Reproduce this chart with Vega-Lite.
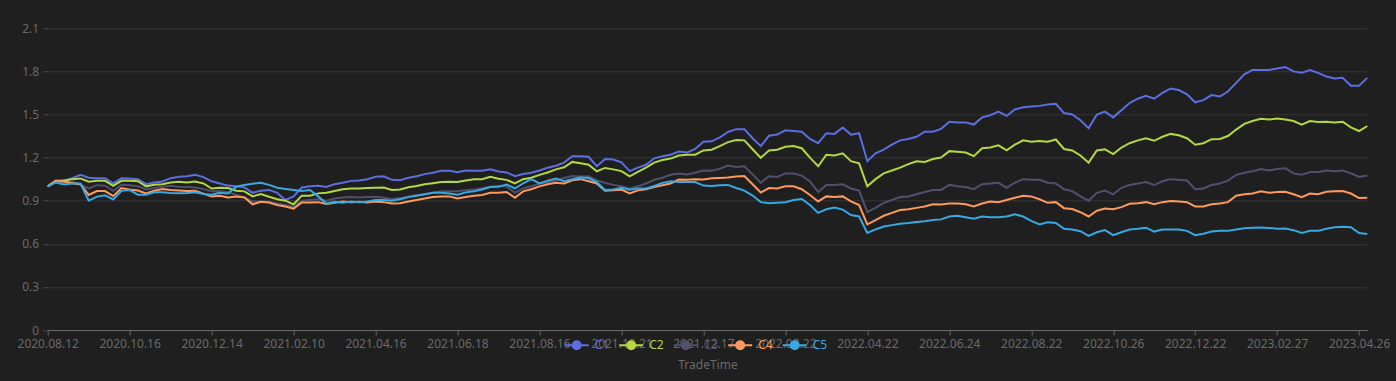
{
"$schema": "https://vega.github.io/schema/vega-lite/v6.json",
"autosize": {"type": "none"},
"padding": {"left": 47.7, "top": 28.3, "right": 28.7, "bottom": 51},
"width": 1319.6,
"height": 301.7,
"background": "#1f1f1f",
"config": {
  "view": {"stroke": null},
  "font": "Noto Sans",
  "axis": {"labelFont": "Noto Sans", "titleFont": "Noto Sans", "labelFontSize": 12, "titleFontSize": 12, "titleFontWeight": "normal"}
},
"data": {"values": [
{"TradeTime":"2020.08.12","C1":1.0,"C2":1.0,"C3":1.0,"C4":1.0,"C5":1.0},
{"TradeTime":"2020.08.18","C1":1.038,"C2":1.036,"C3":1.03,"C4":1.04,"C5":1.027},
{"TradeTime":"2020.08.24","C1":1.04,"C2":1.04,"C3":1.025,"C4":1.034,"C5":1.013},
{"TradeTime":"2020.08.28","C1":1.057,"C2":1.05,"C3":1.034,"C4":1.022,"C5":1.02},
{"TradeTime":"2020.09.03","C1":1.08,"C2":1.055,"C3":1.011,"C4":1.015,"C5":1.02},
{"TradeTime":"2020.09.09","C1":1.06,"C2":1.032,"C3":0.985,"C4":0.94,"C5":0.9},
{"TradeTime":"2020.09.15","C1":1.057,"C2":1.038,"C3":1.008,"C4":0.967,"C5":0.928},
{"TradeTime":"2020.09.21","C1":1.057,"C2":1.038,"C3":1.004,"C4":0.967,"C5":0.937},
{"TradeTime":"2020.09.25","C1":1.02,"C2":1.004,"C3":0.969,"C4":0.932,"C5":0.909},
{"TradeTime":"2020.10.09","C1":1.057,"C2":1.038,"C3":1.011,"C4":0.988,"C5":0.969},
{"TradeTime":"2020.10.16","C1":1.055,"C2":1.038,"C3":1.008,"C4":0.978,"C5":0.974},
{"TradeTime":"2020.10.22","C1":1.05,"C2":1.036,"C3":1.0,"C4":0.971,"C5":0.942},
{"TradeTime":"2020.10.28","C1":1.015,"C2":1.0,"C3":0.978,"C4":0.951,"C5":0.942},
{"TradeTime":"2020.11.03","C1":1.027,"C2":1.011,"C3":0.988,"C4":0.969,"C5":0.958},
{"TradeTime":"2020.11.09","C1":1.034,"C2":1.015,"C3":0.997,"C4":0.981,"C5":0.958},
{"TradeTime":"2020.11.13","C1":1.057,"C2":1.027,"C3":1.004,"C4":0.974,"C5":0.953},
{"TradeTime":"2020.11.19","C1":1.066,"C2":1.032,"C3":0.997,"C4":0.971,"C5":0.951},
{"TradeTime":"2020.11.25","C1":1.07,"C2":1.027,"C3":0.995,"C4":0.967,"C5":0.953},
{"TradeTime":"2020.12.01","C1":1.08,"C2":1.034,"C3":0.992,"C4":0.969,"C5":0.958},
{"TradeTime":"2020.12.07","C1":1.064,"C2":1.02,"C3":0.981,"C4":0.949,"C5":0.946},
{"TradeTime":"2020.12.14","C1":1.035,"C2":0.985,"C3":0.965,"C4":0.93,"C5":0.942},
{"TradeTime":"2020.12.18","C1":1.02,"C2":0.99,"C3":0.965,"C4":0.935,"C5":0.955},
{"TradeTime":"2020.12.24","C1":1.005,"C2":0.988,"C3":0.96,"C4":0.922,"C5":0.95},
{"TradeTime":"2020.12.30","C1":1.0,"C2":0.97,"C3":0.94,"C4":0.93,"C5":0.998},
{"TradeTime":"2021.01.06","C1":0.993,"C2":0.965,"C3":0.925,"C4":0.923,"C5":1.01},
{"TradeTime":"2021.01.12","C1":0.955,"C2":0.93,"C3":0.895,"C4":0.875,"C5":1.018},
{"TradeTime":"2021.01.18","C1":0.97,"C2":0.946,"C3":0.895,"C4":0.893,"C5":1.025},
{"TradeTime":"2021.01.22","C1":0.975,"C2":0.928,"C3":0.893,"C4":0.888,"C5":1.01},
{"TradeTime":"2021.01.28","C1":0.955,"C2":0.91,"C3":0.88,"C4":0.87,"C5":0.99},
{"TradeTime":"2021.02.03","C1":0.905,"C2":0.9,"C3":0.87,"C4":0.86,"C5":0.982},
{"TradeTime":"2021.02.10","C1":0.93,"C2":0.875,"C3":0.86,"C4":0.845,"C5":0.975},
{"TradeTime":"2021.02.23","C1":0.992,"C2":0.935,"C3":0.9,"C4":0.888,"C5":0.967},
{"TradeTime":"2021.03.01","C1":1.0,"C2":0.935,"C3":0.905,"C4":0.888,"C5":0.975},
{"TradeTime":"2021.03.05","C1":1.004,"C2":0.951,"C3":0.91,"C4":0.89,"C5":0.93},
{"TradeTime":"2021.03.11","C1":0.995,"C2":0.955,"C3":0.9,"C4":0.877,"C5":0.88},
{"TradeTime":"2021.03.17","C1":1.015,"C2":0.968,"C3":0.915,"C4":0.886,"C5":0.892},
{"TradeTime":"2021.03.23","C1":1.025,"C2":0.98,"C3":0.922,"C4":0.894,"C5":0.885},
{"TradeTime":"2021.03.29","C1":1.038,"C2":0.985,"C3":0.925,"C4":0.89,"C5":0.895},
{"TradeTime":"2021.04.02","C1":1.04,"C2":0.985,"C3":0.922,"C4":0.892,"C5":0.89},
{"TradeTime":"2021.04.09","C1":1.05,"C2":0.988,"C3":0.925,"C4":0.888,"C5":0.895},
{"TradeTime":"2021.04.16","C1":1.066,"C2":0.99,"C3":0.928,"C4":0.895,"C5":0.905},
{"TradeTime":"2021.04.22","C1":1.07,"C2":0.992,"C3":0.92,"C4":0.89,"C5":0.905},
{"TradeTime":"2021.04.28","C1":1.045,"C2":0.975,"C3":0.912,"C4":0.88,"C5":0.9},
{"TradeTime":"2021.05.07","C1":1.043,"C2":0.978,"C3":0.918,"C4":0.882,"C5":0.91},
{"TradeTime":"2021.05.13","C1":1.06,"C2":0.994,"C3":0.93,"C4":0.895,"C5":0.925},
{"TradeTime":"2021.05.19","C1":1.07,"C2":1.002,"C3":0.94,"C4":0.905,"C5":0.935},
{"TradeTime":"2021.05.25","C1":1.085,"C2":1.015,"C3":0.945,"C4":0.915,"C5":0.945},
{"TradeTime":"2021.05.31","C1":1.095,"C2":1.022,"C3":0.955,"C4":0.925,"C5":0.955},
{"TradeTime":"2021.06.04","C1":1.108,"C2":1.03,"C3":0.965,"C4":0.93,"C5":0.955},
{"TradeTime":"2021.06.10","C1":1.108,"C2":1.032,"C3":0.965,"C4":0.93,"C5":0.95},
{"TradeTime":"2021.06.18","C1":1.098,"C2":1.03,"C3":0.965,"C4":0.915,"C5":0.942},
{"TradeTime":"2021.06.24","C1":1.11,"C2":1.04,"C3":0.972,"C4":0.925,"C5":0.958},
{"TradeTime":"2021.06.30","C1":1.108,"C2":1.05,"C3":0.978,"C4":0.935,"C5":0.965},
{"TradeTime":"2021.07.06","C1":1.108,"C2":1.05,"C3":0.987,"C4":0.94,"C5":0.978},
{"TradeTime":"2021.07.12","C1":1.118,"C2":1.066,"C3":0.997,"C4":0.955,"C5":0.995},
{"TradeTime":"2021.07.16","C1":1.104,"C2":1.053,"C3":1.004,"C4":0.955,"C5":0.997},
{"TradeTime":"2021.07.22","C1":1.097,"C2":1.045,"C3":0.998,"C4":0.96,"C5":1.012},
{"TradeTime":"2021.07.28","C1":1.07,"C2":1.02,"C3":0.955,"C4":0.92,"C5":0.985},
{"TradeTime":"2021.08.03","C1":1.086,"C2":1.05,"C3":0.985,"C4":0.965,"C5":1.02},
{"TradeTime":"2021.08.09","C1":1.095,"C2":1.06,"C3":1.0,"C4":0.98,"C5":1.05},
{"TradeTime":"2021.08.16","C1":1.11,"C2":1.08,"C3":1.017,"C4":1.0,"C5":1.02},
{"TradeTime":"2021.08.20","C1":1.13,"C2":1.096,"C3":1.03,"C4":1.015,"C5":1.04},
{"TradeTime":"2021.08.26","C1":1.143,"C2":1.118,"C3":1.04,"C4":1.025,"C5":1.055},
{"TradeTime":"2021.09.01","C1":1.165,"C2":1.133,"C3":1.058,"C4":1.02,"C5":1.035},
{"TradeTime":"2021.09.07","C1":1.21,"C2":1.17,"C3":1.072,"C4":1.042,"C5":1.05},
{"TradeTime":"2021.09.13","C1":1.21,"C2":1.16,"C3":1.068,"C4":1.05,"C5":1.062},
{"TradeTime":"2021.09.17","C1":1.206,"C2":1.15,"C3":1.07,"C4":1.035,"C5":1.058},
{"TradeTime":"2021.09.27","C1":1.14,"C2":1.105,"C3":1.04,"C4":1.02,"C5":1.03},
{"TradeTime":"2021.10.08","C1":1.19,"C2":1.128,"C3":1.025,"C4":0.97,"C5":0.975},
{"TradeTime":"2021.10.14","C1":1.187,"C2":1.118,"C3":1.01,"C4":0.972,"C5":0.978},
{"TradeTime":"2021.10.21","C1":1.167,"C2":1.106,"C3":1.0,"C4":0.977,"C5":0.99},
{"TradeTime":"2021.10.27","C1":1.106,"C2":1.07,"C3":0.985,"C4":0.95,"C5":0.977},
{"TradeTime":"2021.11.02","C1":1.13,"C2":1.1,"C3":1.0,"C4":0.972,"C5":0.985},
{"TradeTime":"2021.11.08","C1":1.15,"C2":1.13,"C3":1.02,"C4":0.98,"C5":0.985},
{"TradeTime":"2021.11.12","C1":1.195,"C2":1.165,"C3":1.045,"C4":0.995,"C5":1.002},
{"TradeTime":"2021.11.18","C1":1.21,"C2":1.183,"C3":1.06,"C4":1.008,"C5":1.024},
{"TradeTime":"2021.11.24","C1":1.22,"C2":1.193,"C3":1.08,"C4":1.02,"C5":1.036},
{"TradeTime":"2021.11.30","C1":1.242,"C2":1.215,"C3":1.09,"C4":1.048,"C5":1.03},
{"TradeTime":"2021.12.06","C1":1.235,"C2":1.22,"C3":1.083,"C4":1.045,"C5":1.03},
{"TradeTime":"2021.12.10","C1":1.26,"C2":1.22,"C3":1.095,"C4":1.05,"C5":1.03},
{"TradeTime":"2021.12.17","C1":1.31,"C2":1.25,"C3":1.11,"C4":1.048,"C5":1.005},
{"TradeTime":"2021.12.23","C1":1.313,"C2":1.255,"C3":1.108,"C4":1.056,"C5":1.003},
{"TradeTime":"2021.12.29","C1":1.34,"C2":1.28,"C3":1.122,"C4":1.058,"C5":1.008},
{"TradeTime":"2022.01.06","C1":1.378,"C2":1.308,"C3":1.145,"C4":1.061,"C5":1.01},
{"TradeTime":"2022.01.12","C1":1.398,"C2":1.323,"C3":1.134,"C4":1.068,"C5":0.988},
{"TradeTime":"2022.01.18","C1":1.398,"C2":1.32,"C3":1.14,"C4":1.072,"C5":0.97},
{"TradeTime":"2022.01.24","C1":1.335,"C2":1.258,"C3":1.083,"C4":1.015,"C5":0.936},
{"TradeTime":"2022.01.28","C1":1.28,"C2":1.198,"C3":1.025,"C4":0.957,"C5":0.89},
{"TradeTime":"2022.02.09","C1":1.352,"C2":1.25,"C3":1.07,"C4":0.988,"C5":0.882},
{"TradeTime":"2022.02.15","C1":1.36,"C2":1.255,"C3":1.065,"C4":0.985,"C5":0.886},
{"TradeTime":"2022.02.22","C1":1.39,"C2":1.275,"C3":1.09,"C4":1.0,"C5":0.89},
{"TradeTime":"2022.02.28","C1":1.385,"C2":1.28,"C3":1.09,"C4":1.0,"C5":0.905},
{"TradeTime":"2022.03.04","C1":1.38,"C2":1.265,"C3":1.075,"C4":0.98,"C5":0.912},
{"TradeTime":"2022.03.10","C1":1.33,"C2":1.2,"C3":1.035,"C4":0.94,"C5":0.87},
{"TradeTime":"2022.03.16","C1":1.3,"C2":1.14,"C3":0.96,"C4":0.895,"C5":0.815},
{"TradeTime":"2022.03.22","C1":1.37,"C2":1.22,"C3":1.01,"C4":0.93,"C5":0.84},
{"TradeTime":"2022.03.28","C1":1.365,"C2":1.215,"C3":1.01,"C4":0.925,"C5":0.852},
{"TradeTime":"2022.04.01","C1":1.41,"C2":1.23,"C3":1.015,"C4":0.93,"C5":0.838},
{"TradeTime":"2022.04.11","C1":1.36,"C2":1.175,"C3":0.985,"C4":0.895,"C5":0.8},
{"TradeTime":"2022.04.15","C1":1.37,"C2":1.16,"C3":0.97,"C4":0.87,"C5":0.79},
{"TradeTime":"2022.04.22","C1":1.175,"C2":1.0,"C3":0.82,"C4":0.735,"C5":0.675},
{"TradeTime":"2022.04.28","C1":1.23,"C2":1.05,"C3":0.85,"C4":0.765,"C5":0.7},
{"TradeTime":"2022.05.09","C1":1.255,"C2":1.09,"C3":0.885,"C4":0.795,"C5":0.72},
{"TradeTime":"2022.05.13","C1":1.29,"C2":1.11,"C3":0.905,"C4":0.815,"C5":0.73},
{"TradeTime":"2022.05.19","C1":1.32,"C2":1.13,"C3":0.925,"C4":0.835,"C5":0.74},
{"TradeTime":"2022.05.25","C1":1.33,"C2":1.155,"C3":0.93,"C4":0.84,"C5":0.745},
{"TradeTime":"2022.05.31","C1":1.345,"C2":1.175,"C3":0.945,"C4":0.85,"C5":0.752},
{"TradeTime":"2022.06.08","C1":1.38,"C2":1.17,"C3":0.96,"C4":0.86,"C5":0.757},
{"TradeTime":"2022.06.14","C1":1.38,"C2":1.19,"C3":0.975,"C4":0.875,"C5":0.765},
{"TradeTime":"2022.06.17","C1":1.4,"C2":1.2,"C3":0.975,"C4":0.874,"C5":0.77},
{"TradeTime":"2022.06.24","C1":1.45,"C2":1.245,"C3":1.01,"C4":0.88,"C5":0.79},
{"TradeTime":"2022.06.30","C1":1.445,"C2":1.24,"C3":1.0,"C4":0.88,"C5":0.795},
{"TradeTime":"2022.07.06","C1":1.445,"C2":1.235,"C3":0.995,"C4":0.875,"C5":0.785},
{"TradeTime":"2022.07.12","C1":1.43,"C2":1.21,"C3":0.98,"C4":0.86,"C5":0.775},
{"TradeTime":"2022.07.18","C1":1.48,"C2":1.265,"C3":1.015,"C4":0.88,"C5":0.79},
{"TradeTime":"2022.07.22","C1":1.495,"C2":1.27,"C3":1.02,"C4":0.895,"C5":0.785},
{"TradeTime":"2022.07.28","C1":1.52,"C2":1.285,"C3":1.025,"C4":0.89,"C5":0.785},
{"TradeTime":"2022.08.03","C1":1.49,"C2":1.25,"C3":0.99,"C4":0.905,"C5":0.79},
{"TradeTime":"2022.08.09","C1":1.535,"C2":1.29,"C3":1.025,"C4":0.92,"C5":0.805},
{"TradeTime":"2022.08.15","C1":1.55,"C2":1.32,"C3":1.05,"C4":0.935,"C5":0.79},
{"TradeTime":"2022.08.22","C1":1.555,"C2":1.31,"C3":1.045,"C4":0.93,"C5":0.76},
{"TradeTime":"2022.08.26","C1":1.56,"C2":1.315,"C3":1.045,"C4":0.91,"C5":0.735},
{"TradeTime":"2022.09.01","C1":1.57,"C2":1.31,"C3":1.025,"C4":0.885,"C5":0.75},
{"TradeTime":"2022.09.07","C1":1.575,"C2":1.326,"C3":1.02,"C4":0.89,"C5":0.745},
{"TradeTime":"2022.09.14","C1":1.51,"C2":1.26,"C3":0.98,"C4":0.848,"C5":0.705},
{"TradeTime":"2022.09.20","C1":1.5,"C2":1.25,"C3":0.967,"C4":0.842,"C5":0.7},
{"TradeTime":"2022.09.26","C1":1.46,"C2":1.215,"C3":0.93,"C4":0.82,"C5":0.688},
{"TradeTime":"2022.10.10","C1":1.405,"C2":1.165,"C3":0.9,"C4":0.79,"C5":0.655},
{"TradeTime":"2022.10.13","C1":1.5,"C2":1.25,"C3":0.955,"C4":0.83,"C5":0.68},
{"TradeTime":"2022.10.19","C1":1.52,"C2":1.258,"C3":0.97,"C4":0.845,"C5":0.695},
{"TradeTime":"2022.10.26","C1":1.48,"C2":1.225,"C3":0.944,"C4":0.84,"C5":0.66},
{"TradeTime":"2022.11.01","C1":1.53,"C2":1.27,"C3":0.99,"C4":0.855,"C5":0.68},
{"TradeTime":"2022.11.07","C1":1.58,"C2":1.3,"C3":1.01,"C4":0.878,"C5":0.7},
{"TradeTime":"2022.11.11","C1":1.61,"C2":1.32,"C3":1.02,"C4":0.882,"C5":0.705},
{"TradeTime":"2022.11.17","C1":1.63,"C2":1.335,"C3":1.03,"C4":0.89,"C5":0.712},
{"TradeTime":"2022.11.23","C1":1.61,"C2":1.317,"C3":1.009,"C4":0.875,"C5":0.685},
{"TradeTime":"2022.11.29","C1":1.65,"C2":1.345,"C3":1.035,"C4":0.89,"C5":0.7},
{"TradeTime":"2022.12.05","C1":1.68,"C2":1.365,"C3":1.05,"C4":0.898,"C5":0.7},
{"TradeTime":"2022.12.09","C1":1.67,"C2":1.355,"C3":1.045,"C4":0.895,"C5":0.7},
{"TradeTime":"2022.12.15","C1":1.64,"C2":1.335,"C3":1.04,"C4":0.89,"C5":0.69},
{"TradeTime":"2022.12.22","C1":1.585,"C2":1.29,"C3":0.98,"C4":0.86,"C5":0.66},
{"TradeTime":"2022.12.28","C1":1.6,"C2":1.3,"C3":0.985,"C4":0.86,"C5":0.67},
{"TradeTime":"2023.01.04","C1":1.635,"C2":1.328,"C3":1.01,"C4":0.875,"C5":0.685},
{"TradeTime":"2023.01.10","C1":1.625,"C2":1.33,"C3":1.02,"C4":0.88,"C5":0.69},
{"TradeTime":"2023.01.16","C1":1.66,"C2":1.35,"C3":1.04,"C4":0.89,"C5":0.69},
{"TradeTime":"2023.01.20","C1":1.72,"C2":1.395,"C3":1.08,"C4":0.935,"C5":0.7},
{"TradeTime":"2023.02.02","C1":1.78,"C2":1.435,"C3":1.095,"C4":0.945,"C5":0.708},
{"TradeTime":"2023.02.08","C1":1.81,"C2":1.455,"C3":1.105,"C4":0.95,"C5":0.712},
{"TradeTime":"2023.02.14","C1":1.81,"C2":1.47,"C3":1.12,"C4":0.965,"C5":0.714},
{"TradeTime":"2023.02.20","C1":1.81,"C2":1.465,"C3":1.11,"C4":0.955,"C5":0.71},
{"TradeTime":"2023.02.27","C1":1.82,"C2":1.472,"C3":1.12,"C4":0.96,"C5":0.705},
{"TradeTime":"2023.03.03","C1":1.83,"C2":1.465,"C3":1.125,"C4":0.962,"C5":0.706},
{"TradeTime":"2023.03.09","C1":1.8,"C2":1.455,"C3":1.09,"C4":0.945,"C5":0.695},
{"TradeTime":"2023.03.15","C1":1.79,"C2":1.43,"C3":1.08,"C4":0.925,"C5":0.675},
{"TradeTime":"2023.03.21","C1":1.81,"C2":1.455,"C3":1.1,"C4":0.95,"C5":0.69},
{"TradeTime":"2023.03.27","C1":1.79,"C2":1.447,"C3":1.1,"C4":0.945,"C5":0.69},
{"TradeTime":"2023.03.31","C1":1.765,"C2":1.45,"C3":1.11,"C4":0.962,"C5":0.705},
{"TradeTime":"2023.04.07","C1":1.75,"C2":1.445,"C3":1.105,"C4":0.965,"C5":0.715},
{"TradeTime":"2023.04.13","C1":1.755,"C2":1.45,"C3":1.11,"C4":0.967,"C5":0.718},
{"TradeTime":"2023.04.19","C1":1.7,"C2":1.41,"C3":1.09,"C4":0.95,"C5":0.715},
{"TradeTime":"2023.04.26","C1":1.7,"C2":1.385,"C3":1.065,"C4":0.918,"C5":0.675},
{"TradeTime":"2023.05.08","C1":1.755,"C2":1.42,"C3":1.075,"C4":0.92,"C5":0.668}
]},
"transform": [{"fold": ["C1", "C2", "C3", "C4", "C5"], "as": ["series", "value"]}],
"mark": {"type": "line", "strokeWidth": 2, "interpolate": "linear"},
"encoding": {
  "x": {
    "field": "TradeTime", "type": "ordinal",
    "scale": {"type": "point", "padding": 0},
    "axis": {
      "title": "TradeTime", "titleColor": "#6a6a6a", "titlePadding": 10,
      "values": ["2020.08.12","2020.10.16","2020.12.14","2021.02.10","2021.04.16","2021.06.18","2021.08.16","2021.10.21","2021.12.17","2022.02.22","2022.04.22","2022.06.24","2022.08.22","2022.10.26","2022.12.22","2023.02.27","2023.04.26"],
      "labelAngle": 0, "labelOverlap": false, "labelColor": "#6a6a6a", "labelPadding": 3,
      "domainColor": "#666666", "tickColor": "#666666", "tickSize": 5, "grid": false
    }
  },
  "y": {
    "field": "value", "type": "quantitative",
    "scale": {"domain": [0, 2.1], "nice": false, "zero": true},
    "axis": {
      "title": null, "values": [0, 0.3, 0.6, 0.9, 1.2, 1.5, 1.8, 2.1], "format": ".1~f",
      "domain": false, "ticks": true, "tickSize": 5, "tickColor": "#4a4a4a",
      "grid": true, "gridColor": "#363636", "labelColor": "#6a6a6a", "labelPadding": 4
    }
  },
  "color": {
    "field": "series", "type": "nominal",
    "scale": {"domain": ["C1","C2","C3","C4","C5"], "range": ["#5b6fe0","#b3d840","#50506e","#fd9a5b","#38a8e2"]},
    "legend": {
      "title": null, "orient": "none", "legendX": 516, "legendY": 304, "direction": "horizontal",
      "padding": 0, "symbolType": "M-1,0L1,0M-0.333,0A0.333,0.333,0,1,1,0.333,0A0.333,0.333,0,1,1,-0.333,0Z",
      "symbolSize": 576, "symbolStrokeWidth": 2, "labelFontSize": 12, "labelFont": "Noto Sans",
      "labelOffset": 5, "columnPadding": 5.5,
      "encode": {
        "symbols": {"update": {"fill": {"scale": "color", "field": "value"}, "stroke": {"scale": "color", "field": "value"}, "opacity": {"value": 1}}},
        "labels": {"update": {"fill": {"scale": "color", "field": "value"}}}
      }
    }
  }
}
}
